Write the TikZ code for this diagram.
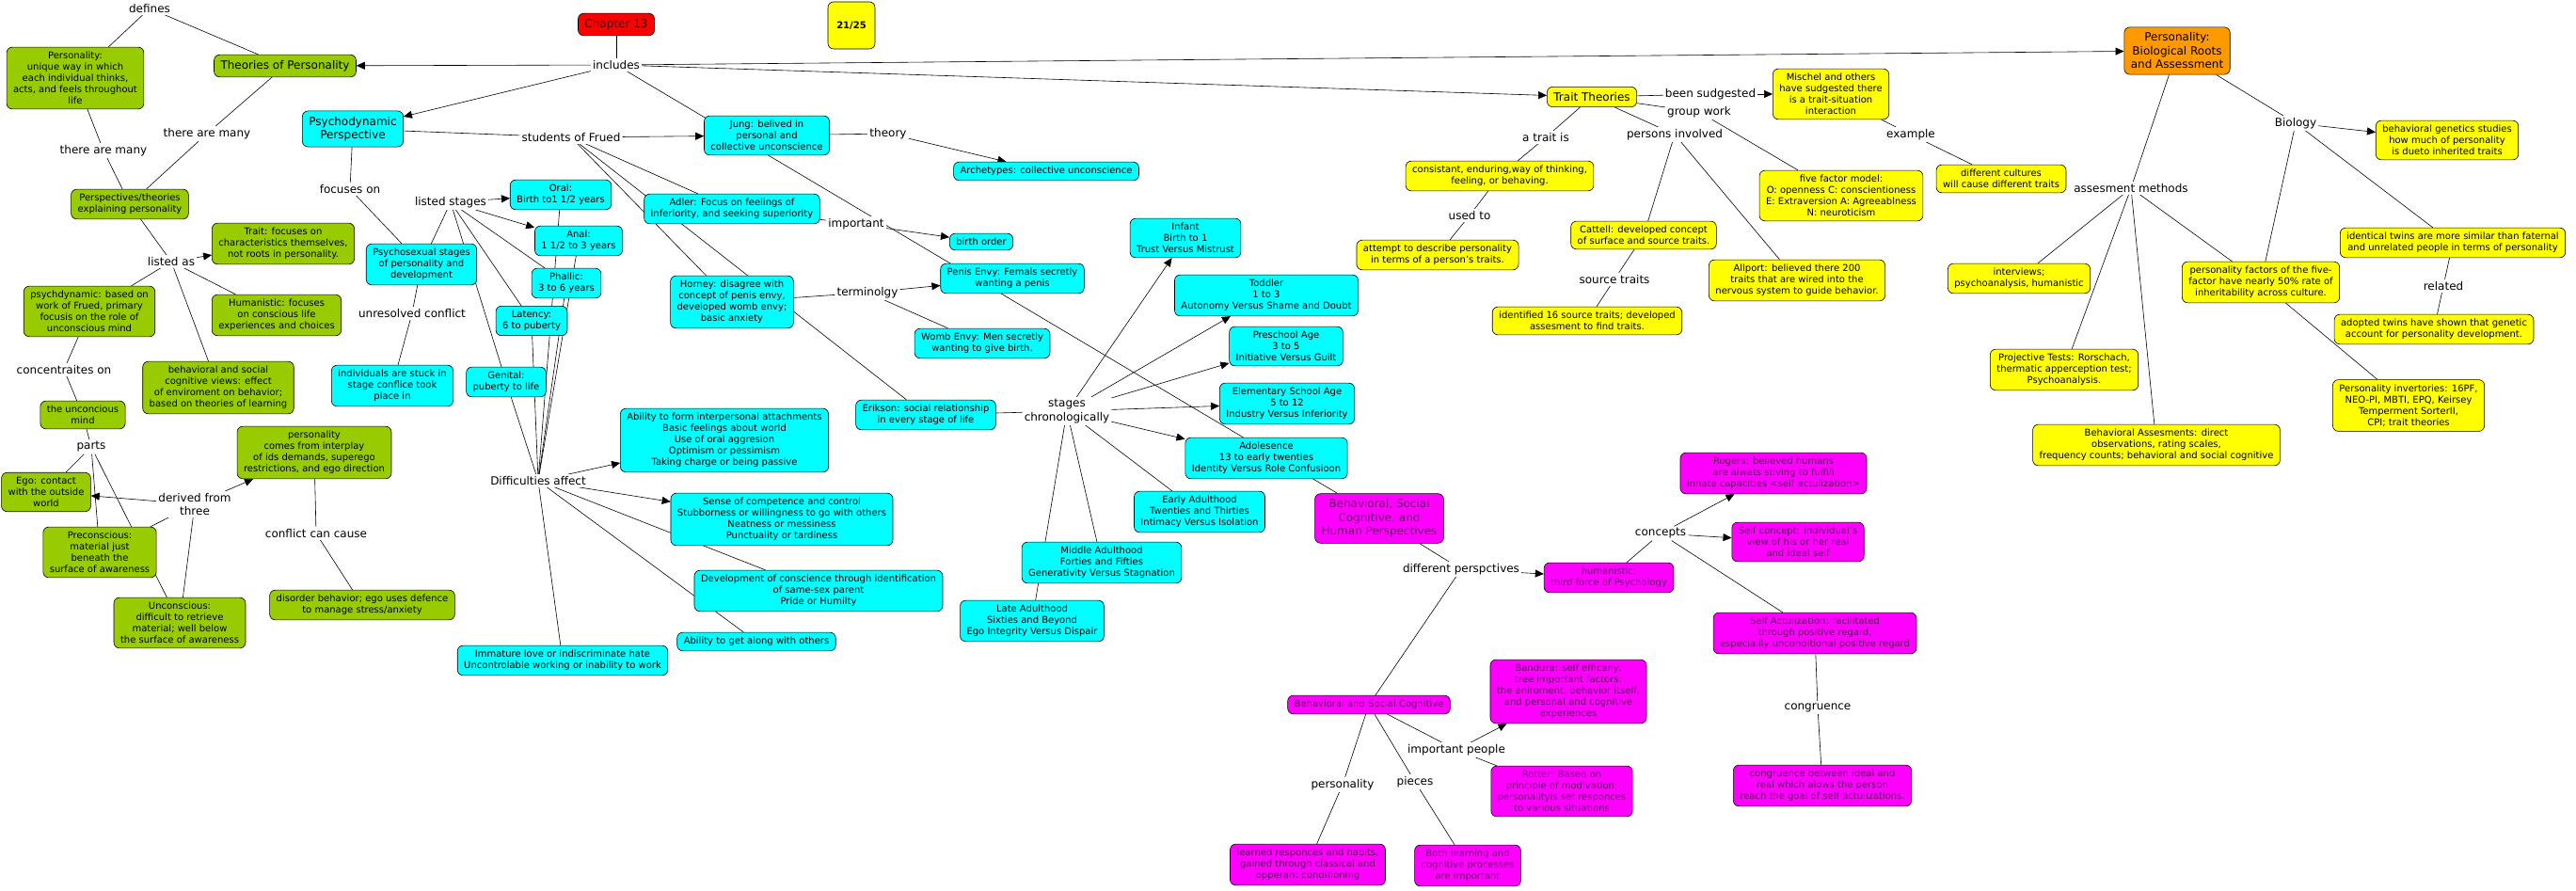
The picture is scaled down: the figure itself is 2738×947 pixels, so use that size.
\documentclass[tikz,border=0pt]{standalone}
\usepackage{fontspec}
\setmainfont{DejaVu Sans}
\usetikzlibrary{arrows.meta,positioning,backgrounds}

\definecolor{cmgreen}{RGB}{153,204,0}
\definecolor{cmcyan}{RGB}{0,255,255}
\definecolor{cmyellow}{RGB}{255,255,0}
\definecolor{cmmagenta}{RGB}{255,0,255}
\definecolor{cmorange}{RGB}{255,153,0}
\definecolor{cmred}{RGB}{255,0,0}
\definecolor{cmpurple}{RGB}{102,0,102}

\begin{document}
\begin{tikzpicture}[
        x=1pt, y=-1pt,
        >={Triangle[length=9pt,width=8pt]},
        concept/.style={
            draw=black,
            line width=0.6pt,
            rounded corners=6pt,
            align=center,
            inner xsep=7pt,
            inner ysep=5pt,
            font=\fontsize{10}{12}\selectfont
        },
        big/.style={font=\fontsize{12}{14.5}\selectfont, inner ysep=6pt},
        persp/.style={concept, fill=cmgreen},
        freud/.style={concept, fill=cmcyan},
        trait/.style={concept, fill=cmyellow},
        human/.style={concept, fill=cmmagenta, text=cmpurple},
        link/.style={fill=white, inner sep=2pt, align=center, font=\fontsize{12}{14.5}\selectfont},
        line/.style={draw=black, line width=0.6pt},
        arr/.style={line, ->}
    ]
        \useasboundingbox (0,0) rectangle (2738,947);

        % top
        \node[concept, big, fill=cmred, text=black!70!red] (chapter) at (655,26) {Chapter 13};
        \node[link] (includes) at (655,69) {includes};
        \node[concept, fill=cmyellow, font=\fontsize{10}{12}\selectfont\bfseries, minimum width=50pt, minimum height=50pt] (score) at (905,27) {21/25};

        % theories of personality
        \node[persp] (pers) at (80,83) {Personality:\\unique way in which\\each individual thinks,\\acts, and feels throughout\\life};
        \node[persp, big] (theories) at (303,70) {Theories of Personality};
        \node[link] (defines) at (159,9) {defines};
        \node[link] (many1) at (220,142) {there are many};
        \node[link] (many2) at (110,160) {there are many};
        \node[persp] (perspectives) at (138,217) {Perspectives/theories\\explaining personality};
        \node[link] (listedas) at (182,278) {listed as};
        \node[persp] (traitv) at (301,259) {Trait: focuses on\\characteristics themselves,\\not roots in personality.};
        \node[persp] (psydyn) at (95,331) {psychdynamic: based on\\work of Frued, primary\\focusis on the role of\\unconscious mind};
        \node[persp] (humanv) at (294,335) {Humanistic: focuses\\on conscious life\\experiences and choices};
        \node[persp] (behav) at (232,412) {behavioral and social\\cognitive views: effect\\of enviroment on behavior;\\based on theories of learning};
        \node[link] (concentr) at (68,393) {concentraites on};
        \node[persp] (unconmind) at (88,441) {the unconcious\\mind};
        \node[link] (parts) at (97,475) {parts};
        \node[persp] (ego) at (49,523) {Ego: contact\\with the outside\\world};
        \node[link] (derived) at (207,536) {derived from\\three};
        \node[persp] (precon) at (106,587) {Preconscious:\\material just\\beneath the\\surface of awareness};
        \node[persp] (uncon) at (191,662) {Unconscious:\\difficult to retrieve\\material; well below\\the surface of awareness};
        \node[persp] (interplay) at (334,481) {personality\\comes from interplay\\of ids demands, superego\\restrictions, and ego direction};
        \node[link] (conflict) at (336,567) {conflict can cause};
        \node[persp] (disorder) at (385,643) {disorder behavior; ego uses defence\\to manage stress/anxiety};

        % psychodynamic perspective
        \node[freud, big] (psychodyn) at (375,137) {Psychodynamic\\Perspective};
        \node[link] (students) at (607,146) {students of Frued};
        \node[link] (focuses) at (372,201) {focuses on};
        \node[freud] (jung) at (815,144) {Jung: belived in\\personal and\\collective unconscience};
        \node[link] (theory) at (944,142) {theory};
        \node[freud] (archetypes) at (1112,182) {Archetypes: collective unconscience};
        \node[freud] (adler) at (778,222) {Adler: Focus on feelings of\\inferiority, and seeking superiority};
        \node[link] (important) at (910,238) {important};
        \node[freud] (birth) at (1043,257) {birth order};
        \node[freud] (penis) at (1076,296) {Penis Envy: Femals secretly\\wanting a penis};
        \node[freud] (horney) at (778,321) {Horney: disagree with\\concept of penis envy,\\developed womb envy;\\basic anxiety};
        \node[link] (terminolgy) at (922,311) {terminolgy};
        \node[freud] (womb) at (1044,365) {Womb Envy: Men secretly\\wanting to give birth.};
        \node[link] (listedst) at (479,215) {listed stages};
        \node[freud] (oral) at (596,207) {Oral:\\Birth to1 1/2 years};
        \node[freud] (anal) at (615,256) {Anal:\\1 1/2 to 3 years};
        \node[freud] (phallic) at (602,301) {Phallic:\\3 to 6 years};
        \node[freud] (psychosex) at (448,281) {Psychosexual stages\\of personality and\\development};
        \node[link] (unresolved) at (438,333) {unresolved conflict};
        \node[freud] (individuals) at (417,410) {individuals are stuck in\\stage conflice took\\place in};
        \node[freud] (latency) at (565,341) {Latency:\\6 to puberty};
        \node[freud] (genital) at (538,406) {Genital:\\puberty to life};
        \node[link] (difficulties) at (572,511) {Difficulties affect};
        \node[freud] (ability) at (770,468) {Ability to form interpersonal attachments\\Basic feelings about world\\Use of oral aggresion\\Optimism or pessimism\\Taking charge or being passive};
        \node[freud] (sense) at (831,552) {Sense of competence and control\\Stubborness or willingness to go with others\\Neatness or messiness\\Punctuality or tardiness};
        \node[freud] (develop) at (870,628) {Development of conscience through identification\\of same-sex parent\\Pride or Humilty};
        \node[freud] (getalong) at (804,682) {Ability to get along with others};
        \node[freud] (immature) at (598,702) {Immature love or indiscriminate hate\\Uncontrolable working or inability to work};
        \node[freud] (erikson) at (984,441) {Erikson: social relationship\\in every stage of life};
        \node[link] (stages) at (1134,437) {stages\\chronologically};
        \node[freud] (infant) at (1260,253) {Infant\\Birth to 1\\Trust Versus Mistrust};
        \node[freud] (toddler) at (1346,314) {Toddler\\1 to 3\\Autonomy Versus Shame and Doubt};
        \node[freud] (preschool) at (1367,368) {Preschool Age\\3 to 5\\Initiative Versus Guilt};
        \node[freud] (elementary) at (1368,429) {Elementary School Age\\5 to 12\\Industry Versus Inferiority};
        \node[freud] (adolescence) at (1346,487) {Adolesence\\13 to early twenties\\Identity Versus Role Confusioon};
        \node[freud] (early) at (1275,544) {Early Adulthood\\Twenties and Thirties\\Intimacy Versus Isolation};
        \node[freud] (middle) at (1171,598) {Middle Adulthood\\Forties and Fifties\\Generativity Versus Stagnation};
        \node[freud] (late) at (1097,660) {Late Adulthood\\Sixties and Beyond\\Ego Integrity Versus Dispair};

        % trait theories
        \node[trait, big] (traittheo) at (1692,103) {Trait Theories};
        \node[link] (sudgested) at (1818,100) {been sudgested};
        \node[link] (groupwork) at (1806,119) {group work};
        \node[trait] (mischel) at (1946,100) {Mischel and others\\have sudgested there\\is a trait-situation\\interaction};
        \node[link] (example) at (2031,143) {example};
        \node[trait] (cultures) at (2127,190) {different cultures\\will cause different traits};
        \node[link] (atrait) at (1643,146) {a trait is};
        \node[link] (persons) at (1780,143) {persons involved};
        \node[trait] (consistant) at (1594,187) {consistant, enduring,way of thinking,\\feeling, or behaving.};
        \node[link] (usedto) at (1562,229) {used to};
        \node[trait] (attempt) at (1528,271) {attempt to describe personality\\in terms of a person's traits.};
        \node[trait] (cattell) at (1747,250) {Cattell: developed concept\\of surface and source traits.};
        \node[link] (source) at (1716,297) {source traits};
        \node[trait] (identified) at (1687,341) {identified 16 source traits; developed\\assesment to find traits.};
        \node[trait] (fivefactor) at (1957,208) {five factor model:\\O: openness C: conscientioness\\E: Extraversion A: Agreeablness\\N: neuroticism};
        \node[trait] (allport) at (1910,298) {Allport: believed there 200\\traits that are wired into the\\nervous system to guide behavior.};

        % biological roots
        \node[concept, big, fill=cmorange] (bioroots) at (2314,54) {Personality:\\Biological Roots\\and Assessment};
        \node[link] (biology) at (2440,131) {Biology};
        \node[trait] (genetics) at (2601,149) {behavioral genetics studies\\how much of personality\\is dueto inherited traits};
        \node[link] (assess) at (2265,200) {assesment methods};
        \node[trait] (interviews) at (2146,296) {interviews;\\psychoanalysis, humanistic};
        \node[trait] (factors) at (2403,300) {personality factors of the five-\\factor have nearly 50\% rate of\\inheritability across culture.};
        \node[trait] (twins) at (2607,258) {identical twins are more similar than faternal\\and unrelated people in terms of personality};
        \node[link] (related) at (2597,304) {related};
        \node[trait] (adopted) at (2587,350) {adopted twins have shown that genetic\\account for personality development.};
        \node[trait] (projective) at (2194,393) {Projective Tests: Rorschach,\\thermatic apperception test;\\Psychoanalysis.};
        \node[trait] (inventories) at (2560,431) {Personality invertories: 16PF,\\NEO-PI, MBTI, EPQ, Keirsey\\Temperment SorterII,\\CPI; trait theories};
        \node[trait] (behassess) at (2292,473) {Behavioral Assesments: direct\\observations, rating scales,\\frequency counts; behavioral and social cognitive};

        % behavioral, social cognitive and humanistic
        \node[human, big] (bsh) at (1466,551) {Behavioral, Social\\Cognitive, and\\Human Perspectives};
        \node[link] (diffpersp) at (1553,605) {different perspctives};
        \node[human] (humanistic) at (1710,614) {humanistic:\\third force of Psychology};
        \node[link] (concepts) at (1765,567) {concepts};
        \node[human] (rogers) at (1885,503) {Rogers: believed humans\\are alwats stiving to fulfill\\innate capacities <self actulization>};
        \node[human] (selfconcept) at (1911,576) {Self concept: individual's\\view of his or her real\\and ideal self};
        \node[human] (selfact) at (1929,673) {Self Actulization: facilitated\\through positive regard,\\especiallly unconditional positive regard};
        \node[link] (congruence) at (1932,752) {congruence};
        \node[human] (congbox) at (1937,835) {congruence between ideal and\\real which alows the person\\reach the goal of self actulizations.};
        \node[human] (bsc) at (1455,749) {Behavioral and Social Cognitive};
        \node[link] (imppeople) at (1548,797) {important people};
        \node[human] (bandura) at (1667,735) {Bandura: self efficany:\\tree important factors:\\the eniroment, behavior itself,\\and personal and cognitive\\experiences};
        \node[human] (rotter) at (1660,841) {Rotter: Based on\\principle of modivation;\\personalityis set responces\\to various situations};
        \node[link] (personality) at (1427,834) {personality};
        \node[link] (pieces) at (1504,831) {pieces};
        \node[human] (learned) at (1390,919) {learned responces and habits,\\gained through classical and\\opperant conditioning};
        \node[human] (both) at (1560,920) {Both learning and\\cognitive processes\\are important};

        \begin{scope}[on background layer]
            \fill[white] (0,0) rectangle (2738,947);

            % chapter
            \draw[line] (chapter) -- (includes);
            \draw[arr] (includes) -- (theories);
            \draw[arr] (includes) -- (psychodyn);
            \draw[arr] (includes) -- (traittheo);
            \draw[arr] (includes) -- (bioroots);
            \draw[line] (includes) -- (bsh);

            % theories of personality
            \draw[line] (pers) -- (defines);
            \draw[line] (defines) -- (theories);
            \draw[line] (theories) -- (many1);
            \draw[line] (many1) -- (perspectives);
            \draw[line] (pers) -- (many2);
            \draw[line] (many2) -- (perspectives);
            \draw[line] (perspectives) -- (listedas);
            \draw[arr] (listedas) -- (traitv);
            \draw[line] (listedas) -- (psydyn);
            \draw[line] (listedas) -- (humanv);
            \draw[line] (listedas) -- (behav);
            \draw[line] (psydyn) -- (concentr);
            \draw[line] (concentr) -- (unconmind);
            \draw[line] (unconmind) -- (parts);
            \draw[line] (parts) -- (ego);
            \draw[line] (parts) -- (precon);
            \draw[line] (parts) -- (uncon);
            \draw[line] (precon) -- (derived);
            \draw[line] (uncon) -- (derived);
            \draw[arr] (derived) -- (ego);
            \draw[arr] (derived) -- (interplay);
            \draw[line] (interplay) -- (conflict);
            \draw[line] (conflict) -- (disorder);

            % psychodynamic perspective
            \draw[line] (psychodyn) -- (students);
            \draw[arr] (students) -- (jung);
            \draw[line] (students) -- (adler);
            \draw[line] (students) -- (horney);
            \draw[line] (students) -- (erikson);
            \draw[line] (jung) -- (theory);
            \draw[arr] (theory) -- (archetypes);
            \draw[line] (adler) -- (important);
            \draw[arr] (important) -- (birth);
            \draw[line] (horney) -- (terminolgy);
            \draw[arr] (terminolgy) -- (penis);
            \draw[line] (terminolgy) -- (womb);
            \draw[line] (psychodyn) -- (focuses);
            \draw[line] (focuses) -- (psychosex);
            \draw[line] (psychosex) -- (listedst);
            \draw[arr] (listedst) -- (oral);
            \draw[arr] (listedst) -- (anal);
            \draw[line] (listedst) -- (phallic);
            \draw[line] (listedst) -- (latency);
            \draw[line] (listedst) -- (genital);
            \draw[line] (psychosex) -- (unresolved);
            \draw[line] (unresolved) -- (individuals);
            \foreach \s in {oral,anal,phallic,latency,genital}
                \draw[line] (\s) -- (difficulties);
            \draw[arr] (difficulties) -- (ability);
            \draw[arr] (difficulties) -- (sense);
            \draw[line] (difficulties) -- (develop);
            \draw[line] (difficulties) -- (getalong);
            \draw[line] (difficulties) -- (immature);
            \draw[line] (erikson) -- (stages);
            \foreach \s in {infant,toddler,preschool,elementary,adolescence}
                \draw[arr] (stages) -- (\s);
            \foreach \s in {early,middle,late}
                \draw[line] (stages) -- (\s);

            % trait theories
            \draw[line] (traittheo) -- (sudgested);
            \draw[arr] (sudgested) -- (mischel);
            \draw[line] (traittheo) -- (groupwork);
            \draw[line] (groupwork) -- (fivefactor);
            \draw[line] (mischel) -- (example);
            \draw[line] (example) -- (cultures);
            \draw[line] (traittheo) -- (atrait);
            \draw[line] (atrait) -- (consistant);
            \draw[line] (consistant) -- (usedto);
            \draw[line] (usedto) -- (attempt);
            \draw[line] (traittheo) -- (persons);
            \draw[line] (persons) -- (cattell);
            \draw[line] (persons) -- (allport);
            \draw[line] (cattell) -- (source);
            \draw[line] (source) -- (identified);

            % biological roots
            \draw[line] (bioroots) -- (biology);
            \draw[arr] (biology) -- (genetics);
            \draw[line] (biology) -- (factors);
            \draw[line] (biology) -- (twins);
            \draw[line] (twins) -- (related);
            \draw[line] (related) -- (adopted);
            \draw[line] (bioroots) -- (assess);
            \foreach \s in {interviews,projective,behassess,factors}
                \draw[line] (assess) -- (\s);
            \draw[line] (factors) -- (inventories);

            % behavioral, social cognitive and humanistic
            \draw[line] (bsh) -- (diffpersp);
            \draw[arr] (diffpersp) -- (humanistic);
            \draw[line] (diffpersp) -- (bsc);
            \draw[line] (humanistic) -- (concepts);
            \draw[arr] (concepts) -- (rogers);
            \draw[arr] (concepts) -- (selfconcept);
            \draw[line] (concepts) -- (selfact);
            \draw[line] (selfact) -- (congruence);
            \draw[line] (congruence) -- (congbox);
            \draw[line] (bsc) -- (imppeople);
            \draw[arr] (imppeople) -- (bandura);
            \draw[line] (imppeople) -- (rotter);
            \draw[line] (bsc) -- (personality);
            \draw[line] (personality) -- (learned);
            \draw[line] (bsc) -- (pieces);
            \draw[line] (pieces) -- (both);
        \end{scope}
    \end{tikzpicture}
\end{document}
